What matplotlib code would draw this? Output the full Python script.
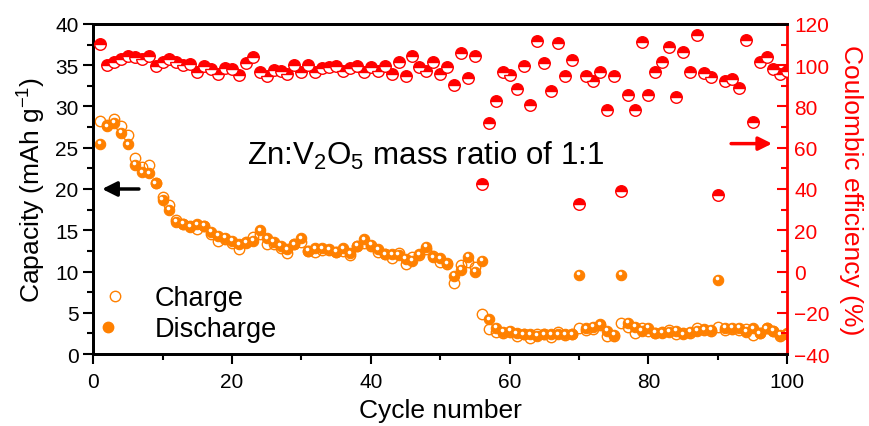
import matplotlib
matplotlib.use("Agg")
import matplotlib.pyplot as plt
import matplotlib.transforms as mtransforms
from matplotlib.lines import Line2D
from matplotlib.legend_handler import HandlerTuple
from matplotlib.ticker import MultipleLocator

plt.rcParams['font.family'] = ['Liberation Sans', 'DejaVu Sans']
plt.rcParams['mathtext.fontset'] = 'custom'
plt.rcParams['mathtext.rm'] = 'Liberation Sans'
plt.rcParams['mathtext.it'] = 'Liberation Sans:italic'

# cycle index 1..100
cycles = list(range(1, 101))

# capacities (mAh g-1)
discharge = [25.5, 27.6, 28.0, 26.8, 25.4, 22.9, 22.0, 21.9, 20.7, 18.7,
             17.5, 16.0, 15.8, 15.4, 15.7, 15.5, 14.8, 14.3, 14.1, 13.7,
             13.3, 13.5, 13.7, 15.0, 14.0, 13.6, 13.1, 12.7, 13.3, 14.0,
             12.5, 12.8, 12.8, 12.7, 12.4, 12.8, 12.2, 13.1, 13.9, 13.2,
             12.7, 12.1, 12.1, 12.0, 11.5, 11.3, 12.1, 13.0, 11.7, 11.6,
             11.0, 9.5, 10.2, 11.8, 10.0, 11.3, 4.2, 3.2, 2.7, 2.8,
             2.5, 2.4, 2.4, 2.2, 2.4, 2.4, 2.4, 2.4, 2.4, 9.6,
             3.1, 3.3, 3.6, 2.8, 2.3, 9.6, 3.8, 3.3, 2.8, 3.2,
             2.6, 2.6, 2.7, 2.8, 2.4, 2.7, 2.8, 3.0, 2.9, 9.0,
             3.2, 3.2, 3.2, 2.7, 3.1, 2.5, 3.1, 2.8, 2.3, 2.5]

charge = [28.3, 27.7, 28.5, 27.6, 26.6, 23.8, 22.7, 22.9, 20.7, 19.0,
          18.0, 16.3, 15.8, 15.5, 15.2, 15.5, 14.5, 13.7, 13.9, 13.5,
          12.7, 13.6, 14.2, 14.5, 13.3, 13.3, 12.8, 12.2, 13.3, 13.6,
          12.5, 12.4, 12.6, 12.6, 12.4, 12.5, 12.0, 13.1, 13.4, 13.1,
          12.4, 12.1, 11.6, 12.2, 10.9, 11.8, 12.0, 12.7, 11.9, 11.1,
          10.9, 8.6, 10.8, 11.1, 10.5, 4.8, 3.0, 2.65, 2.6, 2.65,
          2.2, 2.4, 1.95, 2.45, 2.4, 2.1, 2.65, 2.3, 2.45, 3.1,
          2.9, 3.05, 3.5, 2.2, 2.2, 3.8, 3.25, 2.6, 3.1, 2.75,
          2.5, 2.65, 2.95, 2.4, 2.55, 2.6, 3.2, 2.9, 2.75, 3.3,
          2.95, 3.0, 2.85, 3.05, 2.25, 2.55, 3.2, 2.75, 2.2, 2.4]

# coulombic efficiency (%)
efficiency = [110.3, 100.1, 101.7, 103.0, 104.6, 103.8, 103.0, 104.6, 99.8, 101.4,
              103.0, 101.7, 100.1, 100.6, 96.9, 99.8, 98.2, 95.8, 98.5, 98.2,
              95.3, 101.1, 103.8, 96.9, 94.9, 97.8, 97.4, 95.8, 100.1, 96.9,
              100.1, 96.9, 98.5, 99.0, 99.8, 97.4, 98.5, 99.8, 96.6, 99.0,
              97.4, 99.8, 95.8, 101.7, 94.6, 104.3, 99.0, 97.4, 101.7, 95.8,
              99.3, 90.6, 105.9, 93.8, 104.6, 42.4, 71.9, 82.8, 96.9, 95.3,
              88.5, 99.8, 80.7, 111.6, 101.0, 87.7, 110.6, 94.9, 102.5, 32.7,
              94.6, 92.5, 96.6, 78.5, 94.6, 39.2, 85.7, 78.3, 111.4, 85.6,
              96.9, 101.4, 109.0, 84.8, 106.3, 96.6, 114.8, 96.1, 94.2, 37.1,
              92.2, 93.3, 89.0, 112.4, 72.3, 101.4, 103.8, 98.2, 95.8, 97.0]

orange = '#ff8000'
red = '#ff0000'

fig = plt.figure(figsize=(8.7, 4.27), dpi=100)
ax = fig.add_axes([0.107, 0.1686, 0.798, 0.7729])
ax2 = ax.twinx()

# capacity
ax.plot(cycles, charge, 'o', ms=7.5, mfc='none', mec=orange, mew=1.0, zorder=3)
ax.plot(cycles, discharge, 'o', ms=7.5, mfc=orange, mec=orange, mew=0.8, zorder=4)
shine = mtransforms.offset_copy(ax.transData, fig=fig, x=-0.8, y=1.2, units='points')
ax.plot(cycles, discharge, 'o', ms=2.6, mfc='white', mec='none', transform=shine, zorder=5)

# efficiency, half-filled circles
ax2.plot(cycles, efficiency, 'o', ms=8.3, fillstyle='top', mfc=red,
         markerfacecoloralt='white', mec=red, mew=1.0, zorder=3)

ax.set_xlim(0, 100)
ax.set_ylim(0, 40)
ax2.set_ylim(-40, 120)

ax.xaxis.set_major_locator(MultipleLocator(20))
ax.xaxis.set_minor_locator(MultipleLocator(10))
ax.yaxis.set_major_locator(MultipleLocator(5))
ax.yaxis.set_minor_locator(MultipleLocator(2.5))
ax2.yaxis.set_major_locator(MultipleLocator(20))
ax2.yaxis.set_minor_locator(MultipleLocator(10))

ax.tick_params(axis='both', which='major', direction='out', length=7, width=1.5,
               labelsize=15, top=False, right=False)
ax.tick_params(axis='x', which='major', pad=6)
ax.tick_params(axis='both', which='minor', direction='out', length=4, width=1.5,
               top=False, right=False)
ax2.tick_params(axis='y', which='major', direction='in', length=7, width=1.5,
                labelsize=15, colors=red, pad=5)
ax2.tick_params(axis='y', which='minor', direction='in', length=4, width=1.5, colors=red)

for s in ['left', 'bottom', 'top']:
    ax.spines[s].set_linewidth(2)
    ax2.spines[s].set_linewidth(2)
ax2.spines['right'].set_color(red)
ax2.spines['right'].set_linewidth(2)
ax.spines['right'].set_visible(False)

ax.set_xlabel('Cycle number', fontsize=19, labelpad=5)
ax.set_ylabel(r'Capacity (mAh g$^{\mathrm{-1}}$)', fontsize=19, labelpad=5)
ax2.set_ylabel('Coulombic efficiency (%)', fontsize=19, color=red,
               rotation=270, labelpad=24)

ax.text(22.2, 23.0, r'Zn:V$_{\mathrm{2}}$O$_{\mathrm{5}}$ mass ratio of 1:1',
        fontsize=22.5, ha='left', va='baseline')

ax.annotate('', xy=(0.9, 20), xytext=(7.0, 20),
            arrowprops=dict(arrowstyle='-|>', color='black', lw=2.5,
                            mutation_scale=22))
ax2.annotate('', xy=(98.2, 62), xytext=(91.5, 62),
             arrowprops=dict(arrowstyle='-|>', color=red, lw=2.5,
                             mutation_scale=20))

h_charge = Line2D([], [], ls='none', marker='o', ms=7.5, mfc='none', mec=orange, mew=1.0)
h_dis = Line2D([], [], ls='none', marker='o', ms=7.5, mfc=orange, mec=orange)
h_shine = Line2D([], [], ls='none', marker='o', ms=2.6, mfc='white', mec='none')
ax.legend([h_charge, (h_dis, h_shine)], ['Charge', 'Discharge'],
          handler_map={tuple: HandlerTuple(ndivide=None, pad=0)},
          loc='lower left', bbox_to_anchor=(0.012, 0.035), frameon=False,
          borderpad=0, borderaxespad=0,
          fontsize=19.5, handlelength=1.0, handletextpad=0.98, labelspacing=0.2)

fig.savefig('out.png', dpi=100)
